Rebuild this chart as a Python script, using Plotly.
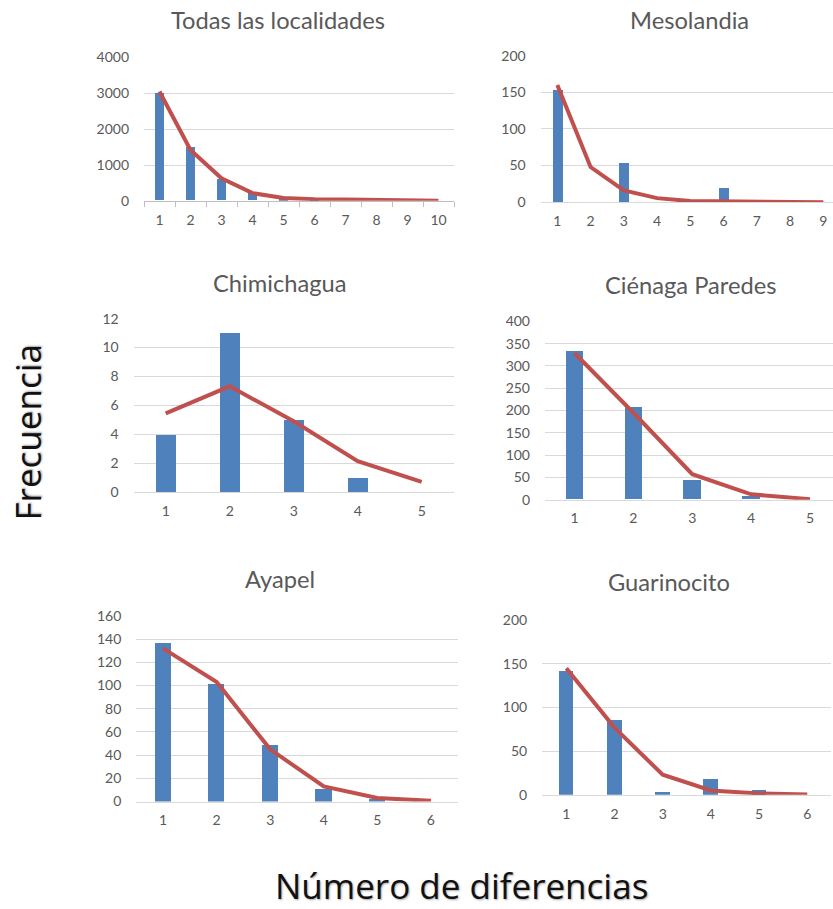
import plotly.graph_objects as go

W, H = 833, 909

# Observed (bars) and expected (line) mismatch distributions per locality
todas_x = [1, 2, 3, 4, 5, 6, 7, 8, 9, 10]
todas_obs = [3010, 1480, 600, 230, 40, 10, 0, 0, 0, 0]
todas_exp = [3050, 1420, 630, 215, 80, 45, 40, 20, 10, 5]

meso_x = [1, 2, 3, 4, 5, 6, 7, 8, 9]
meso_obs = [153, 0, 54, 0, 0, 19, 0, 0, 0]
meso_exp = [160, 48, 16, 5.5, 1.5, 1, 0.3, 0.1, 0]

chimi_x = [1, 2, 3, 4, 5]
chimi_obs = [4, 11, 5, 1, 0]
chimi_exp = [5.44, 7.32, 4.9, 2.14, 0.71]

cien_x = [1, 2, 3, 4, 5]
cien_obs = [333, 208, 43, 8, 0]
cien_exp = [329, 195, 57, 12, 1]

ayap_x = [1, 2, 3, 4, 5, 6]
ayap_obs = [137, 101, 48.5, 11, 2, 0]
ayap_exp = [132, 103, 45, 13, 3, 0.6]

guar_x = [1, 2, 3, 4, 5, 6]
guar_obs = [142, 85, 3, 17.5, 5, 0]
guar_exp = [145, 77, 23, 5, 1.5, 0.3]

titles = ["Todas las localidades", "Mesolandia", "Chimichagua",
          "Ciénaga Paredes", "Ayapel", "Guarinocito"]

BAR = "#4f81bd"
LINE = "#c0504d"
GRID = "#d9d9d9"
TXT = "#595959"
FONT = "Lato"
BIG = "Open Sans"

# layout rows are given in page pixels; the page places the figure 8.8 px
# down and draws it at 0.983 of its height
OFF, K = 8.8, 0.983


def py(y):
    """Page pixel row -> paper fraction."""
    return 1 - ((y - OFF) / K) / H


# panel: data, pixel box (left, right, top, bottom), x range, y max, y step, title pos
panels = [
    (todas_x, todas_obs, todas_exp, (144, 454, 57.3, 201), [0.5, 10.5], 4000, 1000, (278, 20)),
    (meso_x, meso_obs, meso_exp, (540.7, 833, 55.7, 202.3), [0.5, 9.29], 200, 50, (689, 20)),
    (chimi_x, chimi_obs, chimi_exp, (133.7, 453.7, 319, 492.7), [0.5, 5.5], 12, 2, (280, 283)),
    (cien_x, cien_obs, cien_exp, (545, 833, 321.7, 500.3), [0.5, 5.39], 400, 50, (690, 285)),
    (ayap_x, ayap_obs, ayap_exp, (136.3, 457.7, 616.7, 802.7), [0.5, 6.5], 160, 20, (280, 580)),
    (guar_x, guar_obs, guar_exp, (542.2, 831.4, 621, 796), [0.5, 6.5], 200, 50, (669, 583)),
]

fig = go.Figure()
annotations = []
layout = {}

for i, (xs, obs, exp, box, xr, ymax, ystep, tpos) in enumerate(panels):
    n = "" if i == 0 else str(i + 1)
    left, right, top, bottom = box
    fig.add_trace(go.Bar(x=xs, y=obs, width=0.3, marker_color=BAR,
                         marker_line_width=0, xaxis="x" + n, yaxis="y" + n,
                         showlegend=False))
    fig.add_trace(go.Scatter(x=xs, y=exp, mode="lines",
                             line=dict(color=LINE, width=4),
                             xaxis="x" + n, yaxis="y" + n, showlegend=False))
    xa = dict(domain=[left / W, right / W], range=xr, anchor="y" + n,
              tickmode="array", tickvals=xs, ticktext=[str(v) for v in xs],
              showgrid=False, zeroline=False, showline=True, linecolor=GRID,
              linewidth=1, ticks="", tickfont=dict(family=FONT, size=14, color=TXT),
              ticklabelstandoff=6, fixedrange=True)
    if i == 0:
        xa["linecolor"] = "#bfbfbf"
        xa["minor"] = dict(tickmode="array",
                           tickvals=[v + 0.5 for v in [0] + xs],
                           ticks="outside", ticklen=5, tickcolor="#bfbfbf",
                           showgrid=False)
    ya = dict(domain=[py(bottom), py(top)], range=[0, ymax],
              anchor="x" + n, dtick=ystep, tick0=0, showgrid=True,
              gridcolor=GRID, gridwidth=1, zeroline=False, showline=False,
              tickfont=dict(family=FONT, size=14, color=TXT),
              ticklabelstandoff=14, fixedrange=True)
    layout["xaxis" + n] = xa
    layout["yaxis" + n] = ya
    annotations.append(dict(text=titles[i], x=tpos[0] / W, y=py(tpos[1]),
                            xref="paper", yref="paper", xanchor="center",
                            yanchor="middle", showarrow=False,
                            font=dict(family=FONT, size=23.7, color=TXT)))

shadow = "1px 1px 2px rgba(0,0,0,0.35)"
annotations.append(dict(text="Frecuencia", x=27 / W, y=py(433),
                        xref="paper", yref="paper", xanchor="center",
                        yanchor="middle", showarrow=False, textangle=-90,
                        font=dict(family=BIG, size=35, color="#111111", shadow=shadow)))
annotations.append(dict(text="Número de diferencias", x=461 / W, y=py(887),
                        xref="paper", yref="paper", xanchor="center",
                        yanchor="middle", showarrow=False,
                        font=dict(family=BIG, size=35, color="#111111", shadow=shadow)))

fig.update_layout(width=W, height=H, margin=dict(l=0, r=0, t=0, b=0),
                  paper_bgcolor="white", plot_bgcolor="white",
                  bargap=0, annotations=annotations, **layout)

fig.write_html("out.html", config={"displayModeBar": False})
